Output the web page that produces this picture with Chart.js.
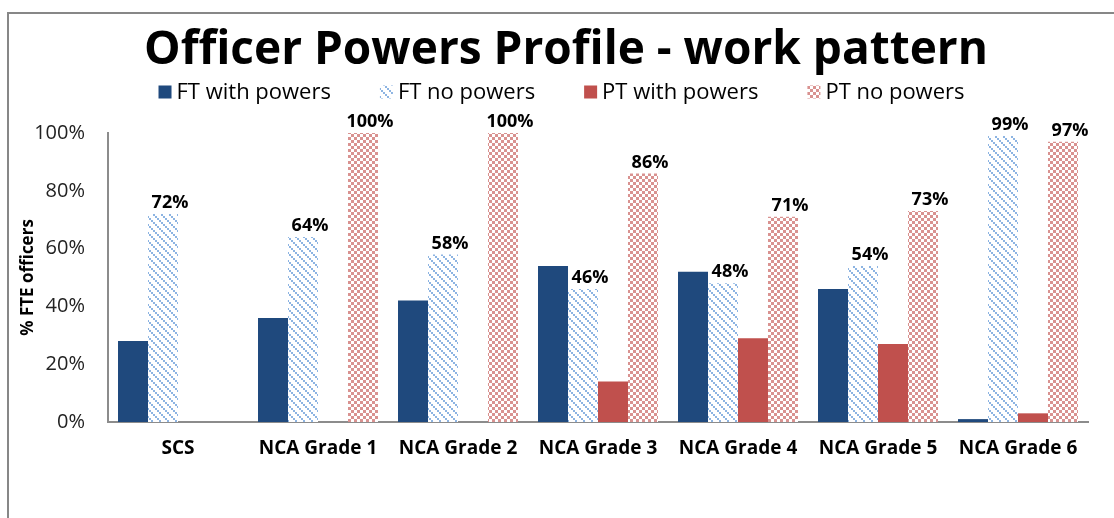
<!DOCTYPE html>
<html>
<head>
<meta charset="utf-8">
<script src="https://cdn.jsdelivr.net/npm/chart.js@4.4.1/dist/chart.umd.min.js"></script>
<style>
  html, body { margin:0; padding:0; background:#fff; overflow:hidden; }
  #frame { position:absolute; left:7px; top:12px; width:1130px; height:530px; border-left:2px solid #878787; border-top:2px solid #878787; }
  #wrap { position:absolute; left:0; top:0; width:1105px; height:504px; }
</style>
</head>
<body>
<div id="frame"><div id="wrap"><canvas id="chart"></canvas></div></div>
<script>
const TITLE = 'Officer Powers Profile - work pattern';
const CATEGORIES = ['SCS', 'NCA Grade 1', 'NCA Grade 2', 'NCA Grade 3', 'NCA Grade 4', 'NCA Grade 5', 'NCA Grade 6'];
const SERIES_NAMES = ['FT with powers', 'FT no powers', 'PT with powers', 'PT no powers'];
const FT_WITH = [28, 36, 42, 54, 52, 46, 1];
const FT_NO   = [72, 64, 58, 46, 48, 54, 99];
const PT_WITH = [0, 0, 0, 14, 29, 27, 3];
const PT_NO   = [0, 100, 100, 86, 71, 73, 97];
const Y_TICKS = [0, 20, 40, 60, 80, 100];

const FONT = '"Open Sans", "Noto Sans", sans-serif';

function makeHatch(){
  // light blue downward diagonal made of small blocks
  const t = document.createElement('canvas'); t.width = 8; t.height = 8;
  const c = t.getContext('2d');
  c.fillStyle = '#fff'; c.fillRect(0,0,8,8);
  c.fillStyle = '#8db4e2';
  for(let i=0;i<8;i+=2) c.fillRect(i, i, 2, 2);
  return c.createPattern(t, 'repeat');
}

function makeChecker(){
  const t = document.createElement('canvas'); t.width = 6; t.height = 6;
  const c = t.getContext('2d');
  c.fillStyle = '#fff'; c.fillRect(0,0,6,6);
  c.fillStyle = '#d99290';
  c.fillRect(0,0,3,3); c.fillRect(3,3,3,3);
  return c.createPattern(t, 'repeat');
}

const hatch = makeHatch();
const checker = makeChecker();
const FILLS = ['#1f497d', hatch, '#c0504d', checker];

const valueLabels = {
  id: 'valueLabels',
  afterDatasetsDraw(chart){
    const ctx = chart.ctx;
    ctx.save();
    ctx.font = 'bold 18px ' + FONT;
    ctx.fillStyle = '#000'; ctx.textAlign = 'center'; ctx.textBaseline = 'middle';
    [1, 3].forEach(di => {
      chart.getDatasetMeta(di).data.forEach((bar, i) => {
        const v = chart.data.datasets[di].data[i];
        if(!v) return;
        ctx.fillText(v + '%', bar.x + 7, bar.y - 11);
      });
    });
    ctx.restore();
  }
};

// title + legend drawn by hand so position and spacing match
const header = {
  id: 'header',
  afterDraw(chart){
    const ctx = chart.ctx;
    ctx.save();
    ctx.fillStyle = '#000';
    ctx.font = 'bold 46px ' + FONT;
    ctx.textAlign = 'center'; ctx.textBaseline = 'alphabetic';
    ctx.fillText(TITLE, 557, 50);

    ctx.font = '22px ' + FONT;
    const box = 13, gap = 5, spacing = 49;
    const widths = SERIES_NAMES.map(n => box + gap + ctx.measureText(n).width);
    const total = widths.reduce((a,b)=>a+b,0) + spacing * (SERIES_NAMES.length - 1);
    let x = chart.width / 2 - total / 2;
    const y = 78;
    ctx.textBaseline = 'middle'; ctx.textAlign = 'left';
    SERIES_NAMES.forEach((n, i) => {
      ctx.fillStyle = FILLS[i];
      ctx.fillRect(x, y - box/2, box, box);
      ctx.fillStyle = '#000';
      ctx.fillText(n, x + box + gap, y + 1);
      x += widths[i] + spacing;
    });
    ctx.restore();
  }
};

new Chart(document.getElementById('chart'), {
  type: 'bar',
  data: {
    labels: CATEGORIES,
    datasets: [FT_WITH, FT_NO, PT_WITH, PT_NO].map((d, i) => ({
      label: SERIES_NAMES[i], data: d, backgroundColor: FILLS[i], borderWidth: 0,
      categoryPercentage: 0.857, barPercentage: 1.0
    }))
  },
  options: {
    responsive: true, maintainAspectRatio: false, animation: false,
    layout: { padding: { top: 119, left: 0, right: 26, bottom: 56 } },
    plugins: {
      legend: { display: false },
      tooltip: { enabled: false },
      title: { display: false }
    },
    scales: {
      x: {
        grid: { display: false, drawTicks: false },
        border: { display: true, color: '#8c8c8c', width: 2 },
        ticks: { color: '#000', padding: 15, font: { family: FONT, size: 19, weight: 'bold' }, maxRotation: 0 },
        afterFit(s){ s.height = 40; }
      },
      y: {
        min: 0, max: 100,
        afterBuildTicks(s){ s.ticks = Y_TICKS.map(v => ({ value: v })); },
        grid: { display: false, drawTicks: false },
        border: { display: true, color: '#8c8c8c', width: 2 },
        ticks: { color: '#222', padding: 23, font: { family: FONT, size: 20 }, callback: v => v + '%' },
        title: { display: true, text: '% FTE officers', color: '#000', font: { family: FONT, size: 17, weight: 'bold' }, padding: { top: 9, bottom: 0 } },
        afterFit(s){ s.width = 99; }
      }
    }
  },
  plugins: [valueLabels, header]
});
</script>
</body>
</html>
